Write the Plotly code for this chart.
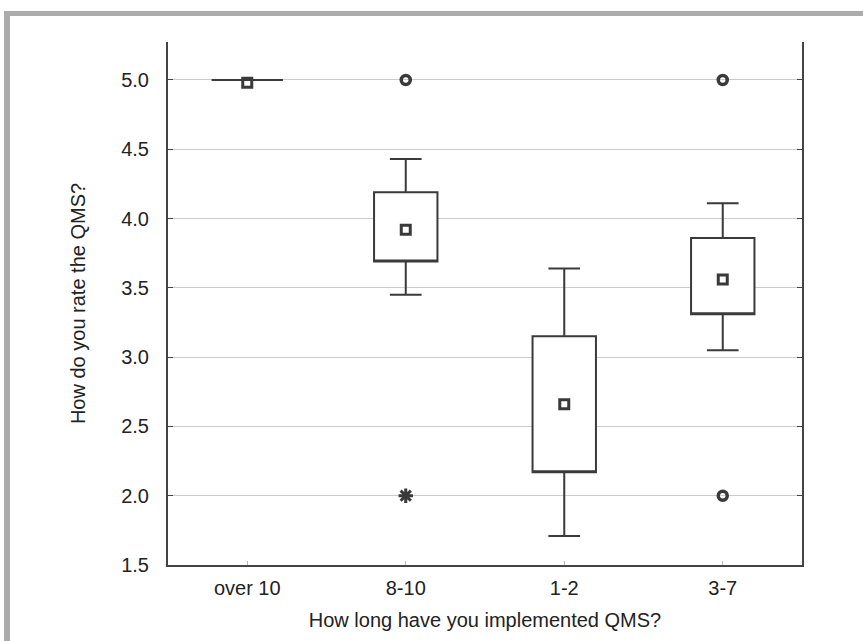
import plotly.graph_objects as go

categories = ["over 10", "8-10", "1-2", "3-7"]
means = [4.98, 3.92, 2.66, 3.56]
box_low = [5.0, 3.69, 2.17, 3.31]
box_high = [5.0, 4.19, 3.15, 3.86]
whisker_low = [5.0, 3.45, 1.71, 3.05]
whisker_high = [5.0, 4.43, 3.64, 4.11]
box_widths = [0.45, 0.40, 0.40, 0.40]
outlier_cats = ["8-10", "3-7", "3-7"]
outlier_vals = [5.0, 5.0, 2.0]
extreme_cats = ["8-10"]
extreme_vals = [2.0]
y_ticks = [1.5, 2.0, 2.5, 3.0, 3.5, 4.0, 4.5, 5.0]

LINE = "#3a3a3a"
FONT = "Liberation Sans, Arial, sans-serif"
FS = 20

fig = go.Figure()
for i, c in enumerate(categories):
    fig.add_trace(go.Box(
        x=[c], q1=[box_low[i]], median=[box_low[i]], q3=[box_high[i]],
        lowerfence=[whisker_low[i]], upperfence=[whisker_high[i]],
        width=box_widths[i], whiskerwidth=0.5,
        fillcolor="white", line=dict(color=LINE, width=2),
        boxpoints=False, showlegend=False, hoverinfo="skip",
    ))

fig.add_trace(go.Scatter(
    x=categories, y=means, mode="markers", showlegend=False,
    marker=dict(symbol="square-open", size=9, color=LINE, line=dict(width=3, color=LINE)),
))
fig.add_trace(go.Scatter(
    x=outlier_cats, y=outlier_vals, mode="markers", showlegend=False,
    marker=dict(symbol="circle-open", size=9, color=LINE, line=dict(width=3.5, color=LINE)),
))
fig.add_trace(go.Scatter(
    x=extreme_cats, y=extreme_vals, mode="markers", showlegend=False,
    marker=dict(symbol="asterisk-open", size=12, color=LINE, line=dict(width=3, color=LINE)),
))

L, R, T, B = 168, 61, 42, 76
W, H = 863, 641
pw, ph = W - L - R, H - T - B

def px(xp):
    return (xp - L) / pw

def py(yp):
    return (H - B - yp) / ph

frame = "#ababab"
fig.add_shape(type="rect", xref="paper", yref="paper",
              x0=px(4), x1=px(W + 5), y0=py(11), y1=py(16),
              fillcolor=frame, line=dict(width=0), layer="below")
fig.add_shape(type="rect", xref="paper", yref="paper",
              x0=px(4), x1=px(10), y0=py(11), y1=py(H + 5),
              fillcolor=frame, line=dict(width=0), layer="below")

fig.update_layout(
    width=W, height=H,
    margin=dict(l=L, r=R, t=T, b=B),
    paper_bgcolor="white", plot_bgcolor="white",
    boxmode="overlay",
    font=dict(family=FONT, size=FS, color="#222222"),
    xaxis=dict(
        type="category", categoryorder="array", categoryarray=categories,
        range=[-0.5, 3.5],
        showline=True, linecolor="#444444", linewidth=2,
        ticks="inside", ticklen=4, tickcolor="#bbbbbb", tickwidth=1,
        showgrid=False, zeroline=False,
        ticklabelstandoff=4,
        tickfont=dict(size=FS),
        title=dict(text="How long have you implemented QMS?", font=dict(size=FS), standoff=15),
    ),
    yaxis=dict(
        range=[1.5, 5.274], tickvals=y_ticks, tickformat=".1f",
        showline=True, linecolor="#444444", linewidth=2, mirror="ticks",
        ticks="inside", ticklen=5, tickcolor="#444444", tickwidth=1,
        showgrid=True, gridcolor="#cccccc", gridwidth=1, zeroline=False,
        ticklabelstandoff=13,
        tickfont=dict(size=FS),
        title=dict(text="How do you rate the QMS?", font=dict(size=FS), standoff=30),
    ),
)

fig.write_html("out.html", config={"displayModeBar": False},
               post_script="document.body.style.margin='0';")
